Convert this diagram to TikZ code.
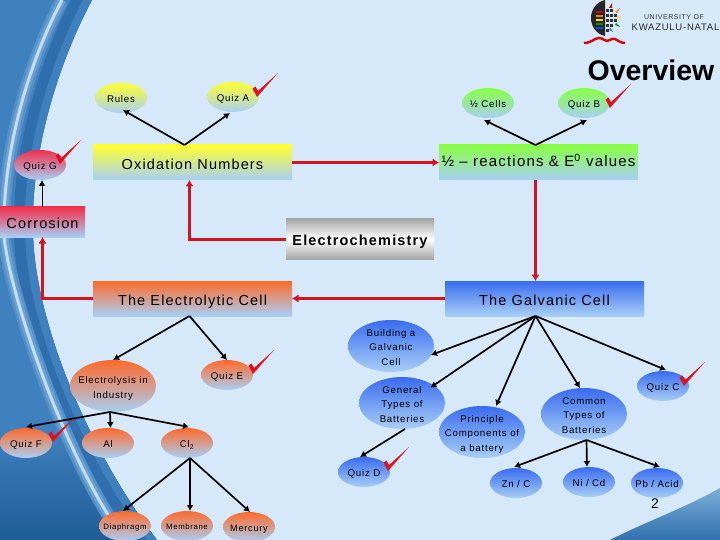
\documentclass[tikz,border=0pt]{standalone}
\usepackage{fontspec}
\setmainfont[LetterSpace=8]{Liberation Sans}
\newfontfamily\plainbold[Ligatures=TeX]{Liberation Sans}
\usetikzlibrary{shapes.geometric,arrows.meta}
\definecolor{bgblue}{HTML}{D6E9FB}
\definecolor{botblue}{HTML}{A8CFF5}
\definecolor{swA}{HTML}{3F80BE}
\definecolor{swB}{HTML}{1F5C98}
\definecolor{swC}{HTML}{7FB0DA}
\definecolor{swD}{HTML}{C5DDF0}
\definecolor{swE}{HTML}{2F6FAE}
\definecolor{yel}{HTML}{FFFF30}
\definecolor{grn}{HTML}{88FF44}
\definecolor{rd}{HTML}{F22F4C}
\definecolor{org}{HTML}{FF6A2A}
\definecolor{blu}{HTML}{3A6CF0}
\definecolor{line}{HTML}{D5121E}
\definecolor{chk}{HTML}{E3101F}
\newcommand{\ov}[2][-.45em]{\makebox[0pt]{\raisebox{#1}[0pt][0pt]{\begin{tabular}[c]{@{}c@{}}#2\end{tabular}}}}
\newcommand{\swooshcurve}{(92,0) .. controls (60,60) and (30,150) .. (33,235) .. controls (36,330) and (95,460) .. (157,540)}
\newcommand{\streakcurve}{(62,0) .. controls (30,60) and (2,150) .. (4,235) .. controls (8,290) and (65,460) .. (125,540)}
\tikzset{
  x=1pt,y=-1pt,
  base/.style={inner sep=0pt,outer sep=0pt,text=black,font=\fontsize{9.7}{14.5}\selectfont},
  ell/.style={base,ellipse,minimum width=52pt,minimum height=30pt},
  bigell/.style={base,ellipse,minimum width=86pt,minimum height=52pt},
  box/.style={base,rectangle,font=\fontsize{14.5}{18}\selectfont},
  ylw/.style={shade,top color=yel,bottom color=botblue},
  gren/.style={shade,top color=grn,bottom color=botblue},
  redd/.style={shade,top color=rd,bottom color=botblue},
  orng/.style={shade,top color=org,bottom color=botblue},
  bluu/.style={shade,top color=blu,bottom color=botblue},
  blk/.style={draw=black,line width=1.7pt,-{Latex[length=6pt,width=7pt]}},
  redarrow/.style={draw=line,line width=3pt,-{Latex[length=6.5pt,width=8.5pt]}},
  tick/.pic={\fill[chk] (-4.5,-8.5) -- (0,0) -- (21,-24) -- (1,-6) -- (-1.5,-10.5) -- cycle;}
}
\begin{document}
\begin{tikzpicture}
\useasboundingbox (0,0) rectangle (720,540);
\fill[bgblue] (0,0) rectangle (720,540);
% left swoosh
\begin{scope}
  \clip \swooshcurve -- (0,540) -- (0,0) -- cycle;
  \fill[swA] (0,0) rectangle (720,540);
  \shade[top color=swA,bottom color=swB] (-1,430) rectangle (170,541);
  \draw[swE,line width=34pt,xshift=-2pt] \swooshcurve;
  \draw[swA,line width=16pt] \swooshcurve;
  \draw[swC!35!swA,line width=13pt] \streakcurve;
  \draw[swC!70!swA,line width=8pt] \streakcurve;
  \draw[swD,line width=3pt] \streakcurve;
\end{scope}
% bottom right swoosh
\begin{scope}
  \clip (610,540) .. controls (645,522) and (685,508) .. (720,488) -- (720,540) -- cycle;
  \shade[top color=swC,bottom color=swE] (605,486) rectangle (721,541);
\end{scope}
% logo
\fill[black!85] (605,0) -- (605,36) .. controls (596,34) and (591,26) .. (591,18) .. controls (591,10) and (596,2) .. (605,0) -- cycle;
\foreach \yy/\cc in {11/red!80!black,15/orange,19/yellow!80!orange,23/green!60!black,27/blue!70!cyan}
  \fill[\cc] (596,\yy) rectangle (603,\yy+2);
\foreach \xx/\yy in {606/9,610/9,606/14,610/14,614/14,606/19,610/19,614/19,606/24,610/24,606/29}
  \fill[black!80] (\xx,\yy) rectangle (\xx+3,\yy+3);
\fill[red!80!black] (609,8) -- (612,3) -- (612,8) -- cycle;
\fill[orange] (615,12) -- (620,8) -- (617,13) -- cycle;
\fill[yellow!80!orange] (617,17) -- (622,18) -- (617,19) -- cycle;
\fill[green!60!black] (616,23) -- (620,27) -- (615,25) -- cycle;
\fill[cyan!70!black] (610,27) -- (613,32) -- (609,30) -- cycle;
\draw[red!85!black,line width=2.4pt] (584,43) .. controls (592,43) and (594,38) .. (599,38) .. controls (603,38) and (604,41) .. (607,41) .. controls (610,41) and (611,38) .. (615,39) .. controls (618,40) and (620,43) .. (625,43);
\node[base,text=black!80,font=\fontsize{7}{8}\selectfont] (uni) at (674,17) {UNIVERSITY OF};
\node[base,text=black!85,font=\fontsize{9.5}{10}\selectfont] (kzn) at (675.5,27) {KWAZULU-NATAL};
\node[base,font=\plainbold\bfseries\fontsize{28.5}{30}\selectfont] (title) at (651,70) {Overview};
% boxes
\node[box,ylw,minimum width=199pt,minimum height=35pt] (ox) at (192.5,162.5) {\ov{Oxidation Numbers}};
\node[box,gren,minimum width=199pt,minimum height=35pt,font=\fontsize{15}{18}\selectfont] (half) at (538.5,162.5) {\ov[-.3em]{½ – reactions \& E\textsuperscript{0} values}};
\node[box,redd,minimum width=85pt,minimum height=30pt] (corr) at (42.5,222) {\ov{Corrosion}};
\node[box,shade,top color=black!35,bottom color=black!35,middle color=white,minimum width=148pt,minimum height=40pt,font=\bfseries\fontsize{14.5}{18}\selectfont] (chem) at (360,239) {\ov{Electrochemistry}};
\node[box,orng,minimum width=199pt,minimum height=35pt] (lyt) at (192.5,298.5) {\ov{The Electrolytic Cell}};
\node[box,bluu,minimum width=199pt,minimum height=35pt] (gal) at (544.5,298.5) {\ov{The Galvanic Cell}};
% top ellipses
\node[ell,ylw] (rules) at (121,98) {\ov{Rules}};
\node[ell,ylw] (qa) at (233,97) {\ov{Quiz A}};
\node[ell,gren] (cells) at (488,103) {\ov{½ Cells}};
\node[ell,gren] (qb) at (584,103) {\ov{Quiz B}};
\node[ell,redd] (qg) at (40,165) {\ov{Quiz G}};
% electrolytic family
\node[bigell,orng] (ind) at (113,386) {\ov{Electrolysis in\\Industry}};
\node[ell,orng] (qe) at (227,375) {\ov{Quiz E}};
\node[ell,orng] (qf) at (26,443) {\ov{Quiz F}};
\node[ell,orng] (al) at (108,443) {\ov{Al}};
\node[ell,orng] (cl) at (187,443) {\ov{Cl\textsubscript{2}}};
\node[ell,orng,font=\fontsize{7.8}{10}\selectfont] (dia) at (125,526) {\ov{Diaphragm}};
\node[ell,orng,font=\fontsize{7.8}{10}\selectfont] (mem) at (187,526) {\ov{Membrane}};
\node[ell,orng,font=\fontsize{9.2}{14}\selectfont] (mer) at (249,527) {\ov{Mercury}};
% galvanic family
\node[bigell,bluu] (bld) at (391,346) {\ov{Building a\\Galvanic\\Cell}};
\node[bigell,bluu] (gen) at (402,403) {\ov{General\\Types of\\Batteries}};
\node[bigell,bluu] (pri) at (482,432) {\ov{Principle\\Components of\\a battery}};
\node[bigell,bluu] (com) at (584,414) {\ov{Common\\Types of\\Batteries}};
\node[ell,bluu] (qc) at (663,386) {\ov{Quiz C}};
\node[ell,bluu] (qd) at (364,472) {\ov{Quiz D}};
\node[ell,bluu] (zn) at (516,483) {\ov{Zn / C}};
\node[ell,bluu] (ni) at (589,482) {\ov{Ni / Cd}};
\node[ell,bluu] (pb) at (657,483) {\ov{Pb / Acid}};
\node[base,font=\fontsize{14}{16}\selectfont] (pg) at (655,504) {2};
% red connectors
\draw[redarrow] (ox.east) -- (half.west);
\draw[redarrow] ([xshift=-3pt]half.south) -- ([xshift=-9pt]gal.north);
\draw[redarrow] (gal.west) -- (lyt.east);
\draw[redarrow] (lyt.west) -| (corr.south);
\draw[redarrow] (chem.west) -| ([xshift=-3pt]ox.south);
% black connectors
\draw[blk,line width=1pt] ([xshift=-.5pt]corr.north) -- ([xshift=2pt]qg.south);
\draw[blk] ([xshift=-8pt]ox.north) -- ([xshift=2pt,yshift=3pt]rules.south);
\draw[blk] ([xshift=-8pt]ox.north) -- ([xshift=-3pt,yshift=-1pt]qa.south);
\draw[blk] ([xshift=-3pt]half.north) -- ([xshift=-4pt,yshift=-2pt]cells.south);
\draw[blk] ([xshift=-3pt]half.north) -- ([xshift=3pt,yshift=-2pt]qb.south);
\draw[blk] ([xshift=-3pt]lyt.south) -- (ind.north);
\draw[blk] ([xshift=-3pt]lyt.south) -- (qe.north);
\draw[blk] ([xshift=-3pt]ind.south) -- ([yshift=1pt]qf.north);
\draw[blk] ([xshift=-3pt]ind.south) -- ([xshift=2.5pt]al.north);
\draw[blk] ([xshift=-3pt]ind.south) -- ([xshift=2pt,yshift=1pt]cl.north);
\draw[blk] ([xshift=3pt]cl.south) -- ([xshift=-2pt]dia.north);
\draw[blk] ([xshift=3pt]cl.south) -- ([xshift=3pt]mem.north);
\draw[blk] ([xshift=3pt]cl.south) -- ([xshift=1pt]mer.north);
\draw[blk] ([xshift=-9pt]gal.south) -- ([xshift=-3pt,yshift=-9pt]bld.east);
\draw[blk] ([xshift=-9pt]gal.south) -- ([xshift=-2pt,yshift=-3pt]gen.north east);
\draw[blk] ([xshift=-9pt]gal.south) -- ([xshift=14pt]pri.north);
\draw[blk] ([xshift=-9pt]gal.south) -- ([xshift=-4pt]com.north);
\draw[blk] ([xshift=-9pt]gal.south) -- ([xshift=3pt,yshift=1pt]qc.north);
\draw[blk] ([xshift=3pt]gen.south) -- ([xshift=-4pt]qd.north);
\draw[blk] ([xshift=2.5pt]com.south) -- ([xshift=-2pt,yshift=1pt]zn.north);
\draw[blk] ([xshift=2.5pt]com.south) -- ([xshift=-2pt]ni.north);
\draw[blk] ([xshift=2.5pt]com.south) -- ([xshift=3pt,yshift=1pt]pb.north);
% ticks
\pic at (257,97) {tick};
\pic at (610,108) {tick};
\pic at (60,164) {tick};
\pic at (253,374) {tick};
\pic at (53,442) {tick};
\pic at (684,386) {tick};
\pic at (388,471) {tick};
\end{tikzpicture}
\end{document}
